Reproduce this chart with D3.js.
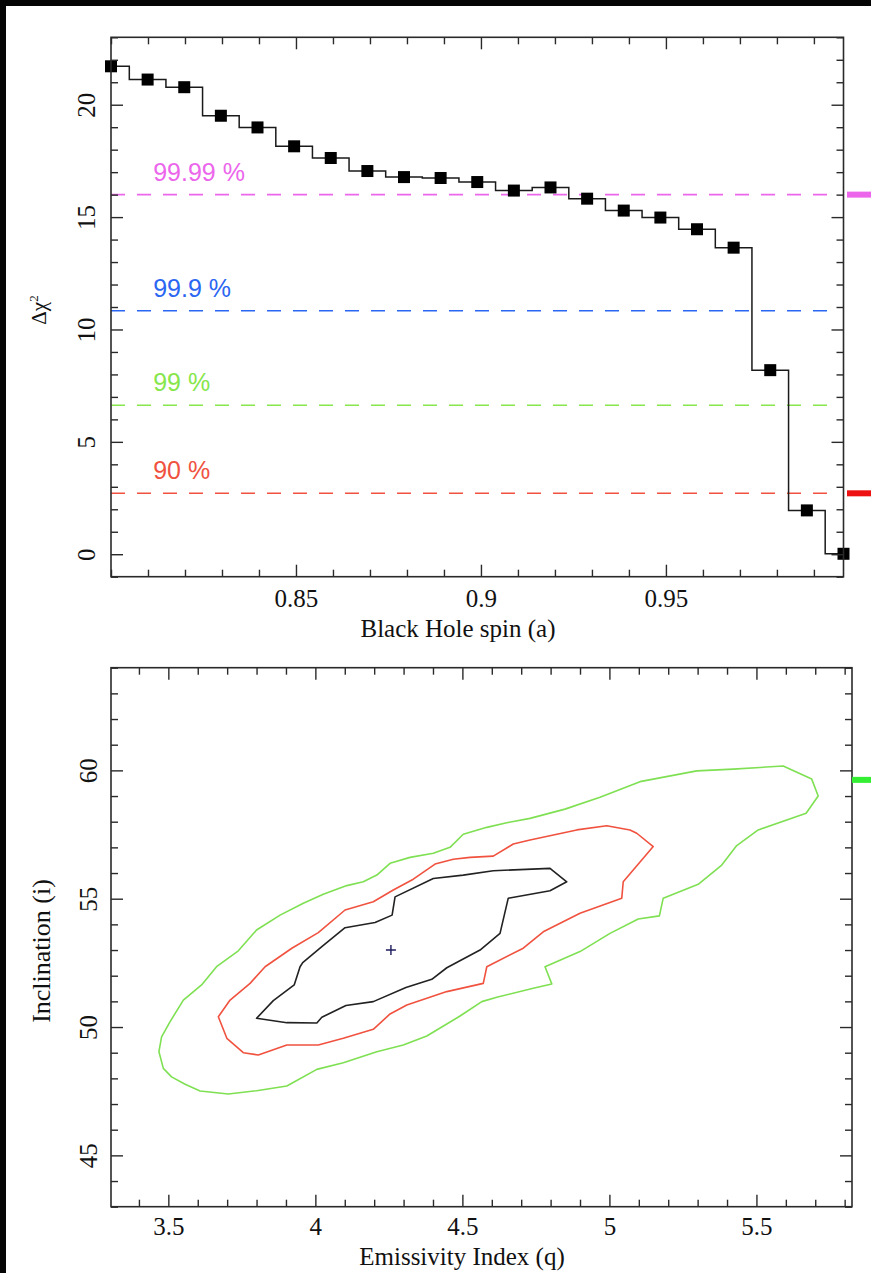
<!DOCTYPE html>
<html><head><meta charset="utf-8">
<script src="https://cdn.jsdelivr.net/npm/d3@7"></script>
<style>html,body{margin:0;padding:0;background:#fff;} svg{display:block}</style>
</head><body>
<svg id="c" width="871" height="1273"></svg>
<script>
// ---------- data: top panel (spin scan) ----------
const spin = [0.8000, 0.8099, 0.8198, 0.8297, 0.8396, 0.8495, 0.8594, 0.8693, 0.8792, 0.8891,
              0.8990, 0.9089, 0.9188, 0.9287, 0.9386, 0.9485, 0.9584, 0.9683, 0.9782, 0.9881, 0.9980];
const dchi2 = [21.71, 21.12, 20.78, 19.51, 18.99, 18.15, 17.63, 17.05, 16.78, 16.74,
               16.56, 16.18, 16.32, 15.82, 15.29, 14.98, 14.46, 13.64, 8.19, 1.95, 0.02];
const levelValues = [2.71, 6.63, 10.83, 16.0];
const levelLabels = ["90 %", "99 %", "99.9 %", "99.99 %"];
const levelColors = ["#f0523f", "#86e64c", "#2b66f2", "#ec66ec"];
const spinTicks = [0.85, 0.9, 0.95];
const spinTickLabels = ["0.85", "0.9", "0.95"];
const dchiTicks = [0, 5, 10, 15, 20];

// ---------- data: bottom panel (q vs inclination contours) ----------
const qTicks = [3.5, 4, 4.5, 5, 5.5];
const incTicks = [45, 50, 55, 60];
const contour68 = [[3.800,50.34],[3.857,51.03],[3.928,51.64],[3.948,52.35],[3.957,52.51],[4.022,53.13],
  [4.101,53.87],[4.203,54.07],[4.261,54.36],[4.271,55.07],[4.401,55.79],[4.503,55.92],[4.605,56.09],
  [4.798,56.18],[4.855,55.66],[4.798,55.31],[4.656,55.02],[4.628,53.65],[4.560,53.00],[4.447,52.31],
  [4.396,51.86],[4.308,51.54],[4.197,50.99],[4.104,50.84],[4.022,50.38],[4.005,50.16],[3.903,50.17]];
const contour90 = [[3.670,50.40],[3.710,51.05],[3.778,51.70],[3.829,52.35],[3.920,53.07],[4.010,53.68],
  [4.101,54.56],[4.197,54.88],[4.265,55.34],[4.333,55.76],[4.407,56.35],[4.469,56.54],[4.526,56.61],
  [4.605,56.66],[4.673,57.13],[4.730,57.29],[4.889,57.68],[4.991,57.84],[5.070,57.68],[5.093,57.55],
  [5.149,57.03],[5.047,55.66],[5.042,55.02],[4.900,54.43],[4.775,53.71],[4.707,53.07],[4.583,52.35],
  [4.571,51.70],[4.447,51.38],[4.311,50.86],[4.254,50.51],[4.197,49.91],[4.095,49.56],[4.010,49.30],
  [3.903,49.30],[3.806,48.91],[3.755,49.00],[3.699,49.56]];
const contour99 = [[3.468,49.04],[3.477,49.62],[3.506,50.21],[3.551,51.05],[3.613,51.64],[3.664,52.35],
  [3.738,52.97],[3.800,53.78],[3.880,54.36],[3.959,54.82],[4.027,55.17],[4.107,55.51],[4.163,55.66],
  [4.209,55.92],[4.254,56.38],[4.322,56.61],[4.401,56.77],[4.458,57.00],[4.503,57.51],[4.583,57.78],
  [4.651,57.96],[4.730,58.13],[4.849,58.49],[4.968,58.95],[5.104,59.56],[5.149,59.66],[5.297,59.98],
  [5.421,60.05],[5.591,60.17],[5.688,59.66],[5.710,59.00],[5.669,58.33],[5.506,57.68],[5.433,57.07],
  [5.382,56.31],[5.302,55.56],[5.183,55.02],[5.170,54.33],[5.098,54.21],[5.002,53.65],[4.900,52.94],
  [4.781,52.35],[4.804,51.68],[4.741,51.51],[4.617,51.16],[4.566,50.99],[4.492,50.43],[4.379,49.65],
  [4.299,49.30],[4.209,49.04],[4.095,48.61],[4.005,48.35],[3.903,47.70],[3.800,47.52],[3.704,47.39],
  [3.608,47.51],[3.557,47.77],[3.511,48.06],[3.483,48.39]];
const contourColors = ["#222222", "#f0523f", "#7ee052"];
const bestFit = [4.257, 53.0];
const sideMarkInc = 59.63;

// ---------- drawing ----------
const SERIF = "'Liberation Serif','Times New Roman',serif";
const SANS = "'Liberation Sans',Arial,sans-serif";
const INK = "#2a2a2a";
const svg = d3.select("#c");
svg.append("rect").attr("width", 871).attr("height", 1273).attr("fill", "#fff");

function frameAxes(g, x, y, majX, minX, majY, minY, fmtX, fmtY, yLabelOff, xLabelOff) {
  const [x0, x1] = x.range();
  const [y0, y1] = y.range();
  const add = (axis, tx, ty) => g.append("g").attr("transform", `translate(${tx},${ty})`).call(axis);
  const axes = [
    add(d3.axisBottom(x).tickValues(majX).tickFormat(fmtX).tickSizeInner(-12).tickSizeOuter(0), 0, y0).attr("class", "xb"),
    add(d3.axisBottom(x).tickValues(minX).tickFormat("").tickSizeInner(-7).tickSizeOuter(0), 0, y0),
    add(d3.axisTop(x).tickValues(majX).tickFormat("").tickSizeInner(-12).tickSizeOuter(0), 0, y1),
    add(d3.axisTop(x).tickValues(minX).tickFormat("").tickSizeInner(-7).tickSizeOuter(0), 0, y1),
    add(d3.axisLeft(y).tickValues(majY).tickFormat(fmtY).tickSizeInner(-12).tickSizeOuter(0), x0, 0).attr("class", "yl"),
    add(d3.axisLeft(y).tickValues(minY).tickFormat("").tickSizeInner(-7).tickSizeOuter(0), x0, 0),
    add(d3.axisRight(y).tickValues(majY).tickFormat("").tickSizeInner(-12).tickSizeOuter(0), x1, 0),
    add(d3.axisRight(y).tickValues(minY).tickFormat("").tickSizeInner(-7).tickSizeOuter(0), x1, 0)
  ];
  axes.forEach(a => {
    a.selectAll(".domain").remove();
    a.selectAll("line").attr("stroke", INK).attr("stroke-width", 1.4);
  });
  g.select(".xb").selectAll("text")
    .attr("y", xLabelOff).attr("dy", null)
    .attr("font-family", SERIF).attr("font-size", 25).attr("fill", "#111");
  g.select(".yl").selectAll("text")
    .attr("x", null).attr("dy", null).attr("text-anchor", "middle")
    .attr("transform", `translate(${-yLabelOff},0) rotate(-90)`)
    .attr("font-family", SERIF).attr("font-size", 25).attr("fill", "#111");
  g.append("rect").attr("x", x0).attr("y", y1).attr("width", x1 - x0).attr("height", y0 - y1)
    .attr("fill", "none").attr("stroke", INK).attr("stroke-width", 1.6);
}

// ---- top panel ----
const xs = d3.scaleLinear().domain([0.8, 0.998]).range([111, 843.5]);
const ys = d3.scaleLinear().domain([-1, 23]).range([576.7, 37.3]);
const gt = svg.append("g");

// confidence lines
const lvl = levelValues.map((v, i) => ({v, label: levelLabels[i], color: levelColors[i]}));
gt.selectAll("line.lvl").data(lvl).join("line").attr("class", "lvl")
  .attr("x1", xs(0.8)).attr("x2", xs(0.9965))
  .attr("y1", d => ys(d.v)).attr("y2", d => ys(d.v))
  .attr("stroke", d => d.color).attr("stroke-width", 1.6).attr("stroke-dasharray", "14,12");
gt.selectAll("text.lvl").data(lvl).join("text").attr("class", "lvl")
  .attr("x", xs(0.8114)).attr("y", d => ys(d.v) - 14)
  .attr("font-family", SANS).attr("font-size", 25).attr("fill", d => d.color)
  .text(d => d.label);

// step curve
const pts = spin.map((s, i) => [s, dchi2[i]]);
gt.append("path").datum(pts)
  .attr("d", d3.line().x(d => xs(d[0])).y(d => ys(d[1])).curve(d3.curveStep))
  .attr("fill", "none").attr("stroke", "#1a1a1a").attr("stroke-width", 1.5);
gt.selectAll("rect.pt").data(pts).join("rect").attr("class", "pt")
  .attr("x", d => xs(d[0]) - 6).attr("y", d => ys(d[1]) - 6)
  .attr("width", 12).attr("height", 12).attr("fill", "#000");

frameAxes(gt, xs, ys, spinTicks, d3.range(80, 100).map(v => v / 100).filter(v => !spinTicks.includes(v)),
  dchiTicks, d3.range(-1, 24).filter(v => v % 5 !== 0),
  (d, i) => spinTickLabels[i], d => String(d), 16, 30);

gt.append("text").attr("x", 458).attr("y", 637).attr("text-anchor", "middle")
  .attr("font-family", SERIF).attr("font-size", 25).attr("fill", "#111").text("Black Hole spin (a)");
const yt = gt.append("text").attr("transform", "translate(46,310) rotate(-90)").attr("text-anchor", "middle")
  .attr("font-family", SERIF).attr("font-size", 21).attr("fill", "#111");
yt.append("tspan").text("Δχ");
yt.append("tspan").attr("dy", "-0.6em").attr("font-size", 13).text("2");

// right-edge marks from slide
svg.append("rect").attr("x", 847).attr("y", ys(16.0) - 3).attr("width", 24).attr("height", 6).attr("fill", levelColors[3]);
svg.append("rect").attr("x", 847).attr("y", ys(2.71) - 3).attr("width", 24).attr("height", 6).attr("fill", "#ee1111");

// ---- bottom panel ----
const xb = d3.scaleLinear().domain([3.305, 5.825]).range([111, 852]);
const yb = d3.scaleLinear().domain([43, 64]).range([1206.7, 667.7]);
const gb = svg.append("g");
const cl = d3.line().x(d => xb(d[0])).y(d => yb(d[1])).curve(d3.curveLinearClosed);
gb.selectAll("path.ct").data([contour68, contour90, contour99]).join("path").attr("class", "ct")
  .attr("d", cl).attr("fill", "none")
  .attr("stroke", (d, i) => contourColors[i]).attr("stroke-width", 1.6).attr("stroke-linejoin", "round");
const bx = xb(bestFit[0]), by = yb(bestFit[1]);
gb.append("path").attr("d", `M${bx - 5},${by}H${bx + 5}M${bx},${by - 5}V${by + 5}`)
  .attr("stroke", "#1c1c5c").attr("stroke-width", 1.4);

frameAxes(gb, xb, yb, qTicks, d3.range(34, 59).map(v => v / 10).filter(v => !qTicks.includes(v)),
  incTicks, d3.range(43, 65).filter(v => v % 5 !== 0),
  d => String(d), d => String(d), 14, 28);

gb.append("text").attr("x", 462).attr("y", 1265).attr("text-anchor", "middle")
  .attr("font-family", SERIF).attr("font-size", 25).attr("fill", "#111").text("Emissivity Index (q)");
gb.append("text").attr("transform", "translate(50,951) rotate(-90)").attr("text-anchor", "middle")
  .attr("font-family", SERIF).attr("font-size", 26).attr("fill", "#111").text("Inclination (i)");

svg.append("rect").attr("x", 852).attr("y", yb(sideMarkInc) - 3).attr("width", 19).attr("height", 6).attr("fill", "#33ee33");

// dark slide border
svg.append("rect").attr("x", 0).attr("y", 0).attr("width", 871).attr("height", 6).attr("fill", "#050505");
svg.append("rect").attr("x", 0).attr("y", 0).attr("width", 6).attr("height", 1273).attr("fill", "#050505");
</script>
</body></html>
